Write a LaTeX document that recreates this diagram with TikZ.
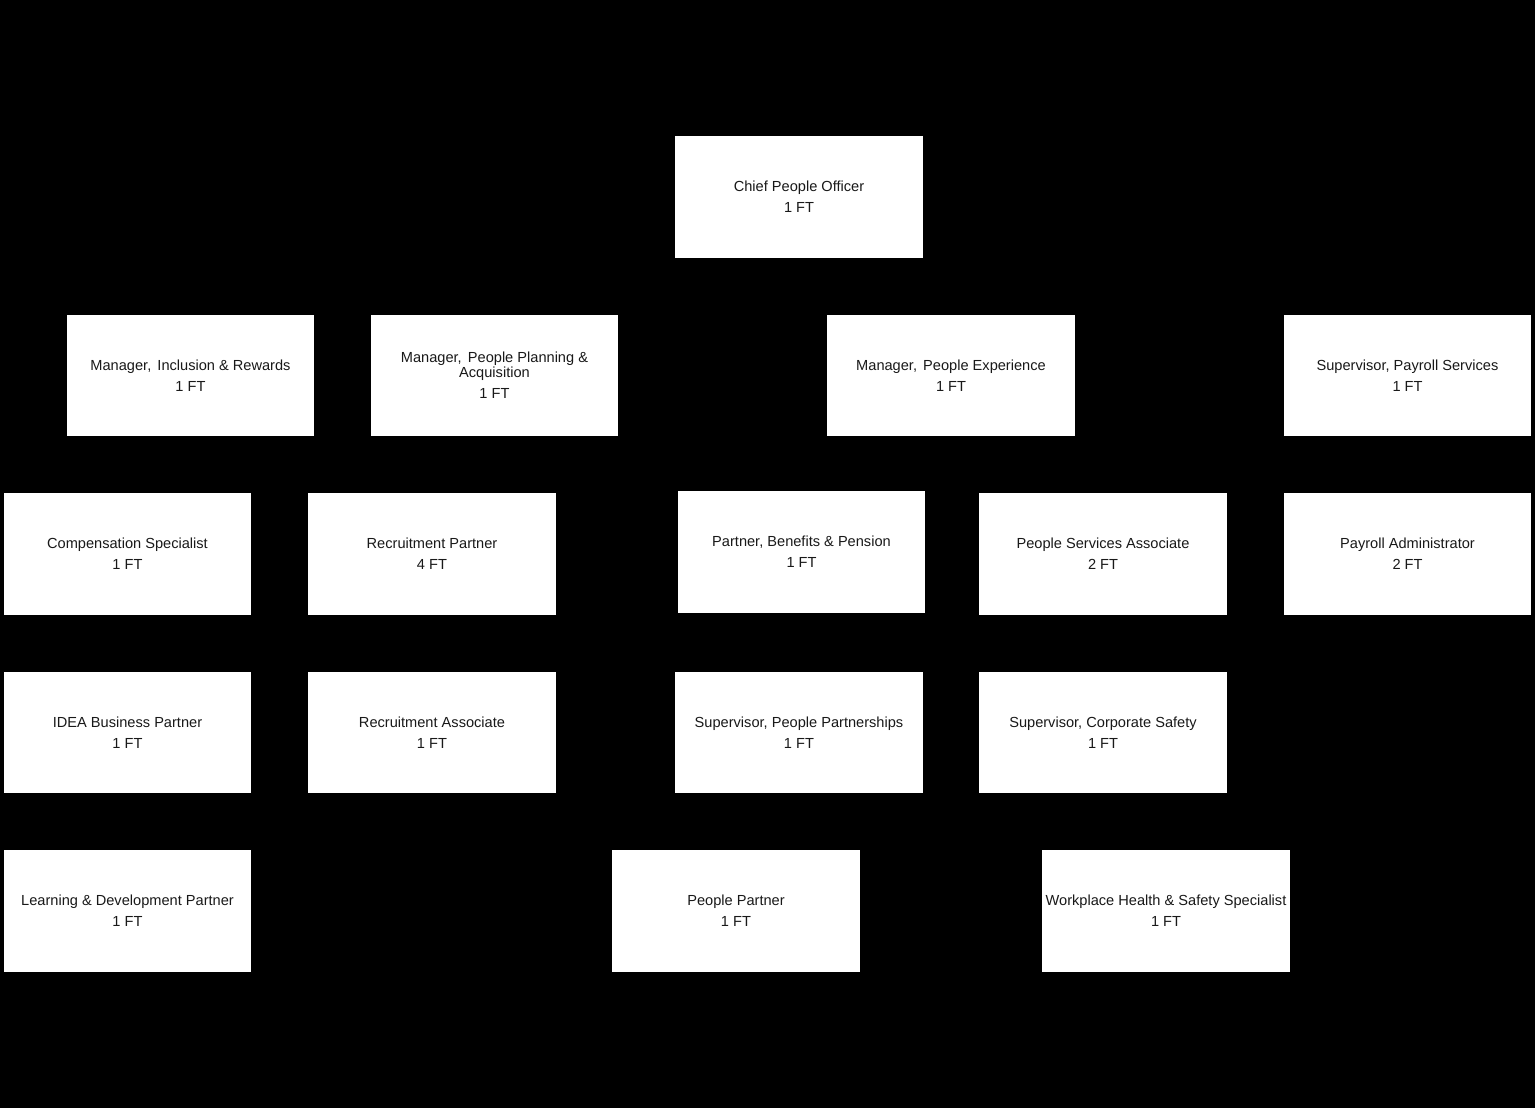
\documentclass[tikz,border=0pt]{standalone}
\usepackage{fontspec}
\setmainfont{Liberation Sans}
\tikzset{
  orgbox/.style={fill=white, draw=none, inner sep=0pt, align=center,
    text=black!90, font=\fontsize{14.6}{21}\selectfont}
}
\newcommand\orgnode[6]{%
  \node[orgbox, minimum width={#4-#2+1}, minimum height={#5-#3+1}] (#1)
    at ({(#2+#4+1)/2},{(#3+#5+1)/2}) {#6};}
\newcommand\gap{\hspace{0.42em}}
\begin{document}
\begin{tikzpicture}[x=1pt,y=-1pt]
\fill[black] (0,0) rectangle (1535,1108);
\useasboundingbox (0,0) rectangle (1535,1108);
\orgnode{cpo}{675}{136}{922}{257}{Chief People Officer\\1 FT}
\orgnode{mir}{67}{315}{313}{435}{Manager,\gap Inclusion \& Rewards\\1 FT}
\orgnode{mppa}{371}{315}{617}{435}{Manager,\gap People Planning \&\\[-6pt]Acquisition\\1 FT}
\orgnode{mpe}{827}{315}{1074}{435}{Manager,\gap People Experience\\1 FT}
\orgnode{sps}{1284}{315}{1530}{435}{Supervisor, Payroll Services\\1 FT}
\orgnode{cs}{4}{493}{250}{614}{Compensation Specialist\\1 FT}
\orgnode{rp}{308}{493}{555}{614}{Recruitment Partner\\4 FT}
\orgnode{pbp}{678}{491}{924}{612}{Partner, Benefits \& Pension\\1 FT}
\orgnode{psa}{979}{493}{1226}{614}{People Services Associate\\2 FT}
\orgnode{pa}{1284}{493}{1530}{614}{Payroll Administrator\\2 FT}
\orgnode{idea}{4}{672}{250}{792}{IDEA Business Partner\\1 FT}
\orgnode{ra}{308}{672}{555}{792}{Recruitment Associate\\1 FT}
\orgnode{spp}{675}{672}{922}{792}{Supervisor, People Partnerships\\1 FT}
\orgnode{scs}{979}{672}{1226}{792}{Supervisor, Corporate Safety\\1 FT}
\orgnode{ldp}{4}{850}{250}{971}{Learning \& Development Partner\\1 FT}
\orgnode{pp}{612}{850}{859}{971}{People Partner\\1 FT}
\orgnode{whs}{1042}{850}{1289}{971}{Workplace Health \& Safety Specialist\\1 FT}
\end{tikzpicture}
\end{document}
